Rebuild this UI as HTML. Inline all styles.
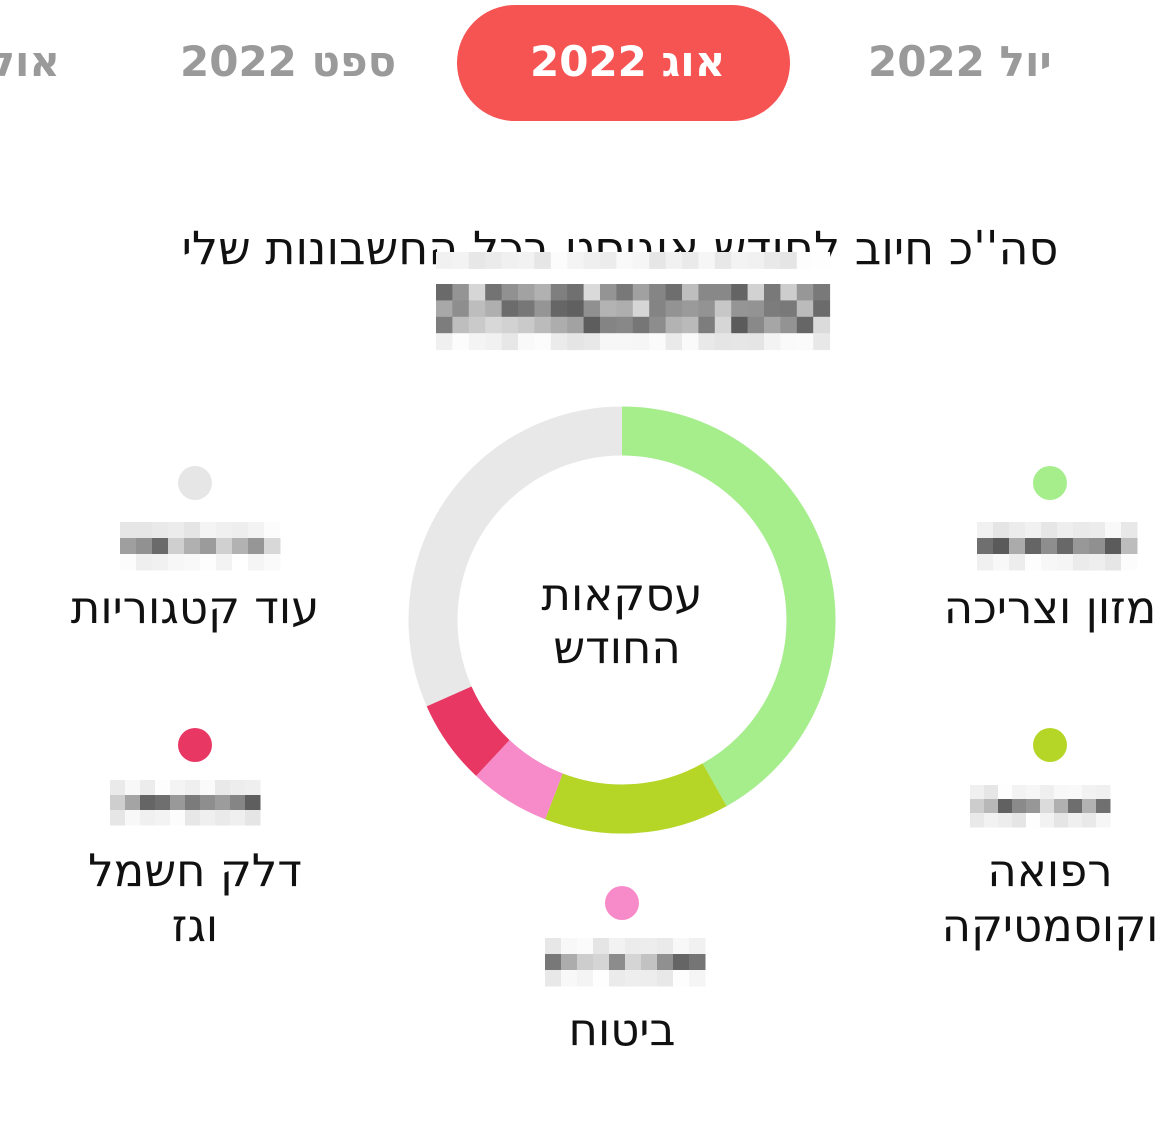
<!DOCTYPE html>
<html><head><meta charset="utf-8">
<style>
html,body{margin:0;padding:0;background:#fff;width:1166px;height:1141px;overflow:hidden;position:relative}
body{font-family:"DejaVu Sans","Liberation Sans",sans-serif}
.t{position:absolute;white-space:nowrap;direction:rtl;color:#111;font-size:45px;line-height:1;transform:translateX(-50%)}
.tab{position:absolute;top:41px;font-weight:bold;font-size:42px;color:#9a9a9a;direction:rtl;white-space:nowrap;line-height:1}
.dot{position:absolute;width:34px;height:34px;border-radius:50%;transform:translate(-50%,-50%)}
</style></head><body>
<div style="position:absolute;left:457px;top:5px;width:333px;height:116px;border-radius:58px;background:#f65353"></div>
<div class="tab" style="left:530px;color:#fff">אוג 2022</div>
<div class="tab" style="left:868px">יול 2022</div>
<div class="tab" style="left:180px">ספט 2022</div>
<div class="tab" style="right:1106px">אוק 2022</div>

<div class="t" style="left:620px;top:225px;font-size:46px">סה''כ חיוב לחודש אוגוסט בכל החשבונות שלי</div>

<svg style="position:absolute;left:0;top:0" width="1166" height="1141">
<g transform="rotate(-90 622 620)" fill="none" stroke-width="49">
<circle cx="622" cy="620" r="189" stroke="#e8e8e8"/>
<circle cx="622" cy="620" r="189" stroke="#a6ee8c" stroke-dasharray="496.8 2000"/>
<circle cx="622" cy="620" r="189" stroke="#b5d627" stroke-dasharray="0 496.8 166.3 2000"/>
<circle cx="622" cy="620" r="189" stroke="#f78ac8" stroke-dasharray="0 663.1 72.6 2000"/>
<circle cx="622" cy="620" r="189" stroke="#e83763" stroke-dasharray="0 735.7 75.9 2000"/>
</g>
<g id="pix"></g>
</svg>

<div class="t" style="left:622px;top:572px">עסקאות</div>
<div class="t" style="left:617px;top:625px">החודש</div>

<div class="dot" style="left:1050px;top:483px;background:#a6ee8c"></div>
<div class="t" style="left:1050px;top:585px">מזון וצריכה</div>
<div class="dot" style="left:1050px;top:745px;background:#b5d627"></div>
<div class="t" style="left:1050px;top:848px">רפואה</div>
<div class="t" style="left:1050px;top:903px">וקוסמטיקה</div>
<div class="dot" style="left:195px;top:483px;background:#e6e6e6"></div>
<div class="t" style="left:195px;top:585px">עוד קטגוריות</div>
<div class="dot" style="left:195px;top:745px;background:#e83763"></div>
<div class="t" style="left:195px;top:848px">דלק חשמל</div>
<div class="t" style="left:195px;top:903px">וגז</div>
<div class="dot" style="left:622px;top:903px;background:#f78ac8"></div>
<div class="t" style="left:622px;top:1007px">ביטוח</div>

<script>
var s=7;function r(){s=(s*9301+49297)%233280;return s/233280;}
var g=document.getElementById('pix'),h='';
function blk(x,y,cols,rows,cs,dark,lightTop){
 for(var j=0;j<rows;j++)for(var i=0;i<cols;i++){
  var edge=(j==rows-1)||(lightTop&&j==0);
  var v=edge?(228+r()*27):(dark?90+r()*130:150+r()*90);
  v=Math.min(255,Math.round(v));
  h+='<rect x="'+(x+i*cs)+'" y="'+(y+j*cs)+'" width="'+(cs+0.5)+'" height="'+(cs+0.5)+'" fill="rgb('+v+','+v+','+v+')"/>';
 }
}
blk(436,252,24,1,16.4,false,false);
blk(436,284,24,4,16.4,true,false);
blk(977,522,10,3,16,true,true);
blk(120,522,10,3,16,true,true);
blk(970,785,10,3,14,true,true);
blk(110,780,10,3,15,true,true);
blk(545,938,10,3,16,true,true);
g.innerHTML=h;
</script>
</body></html>
